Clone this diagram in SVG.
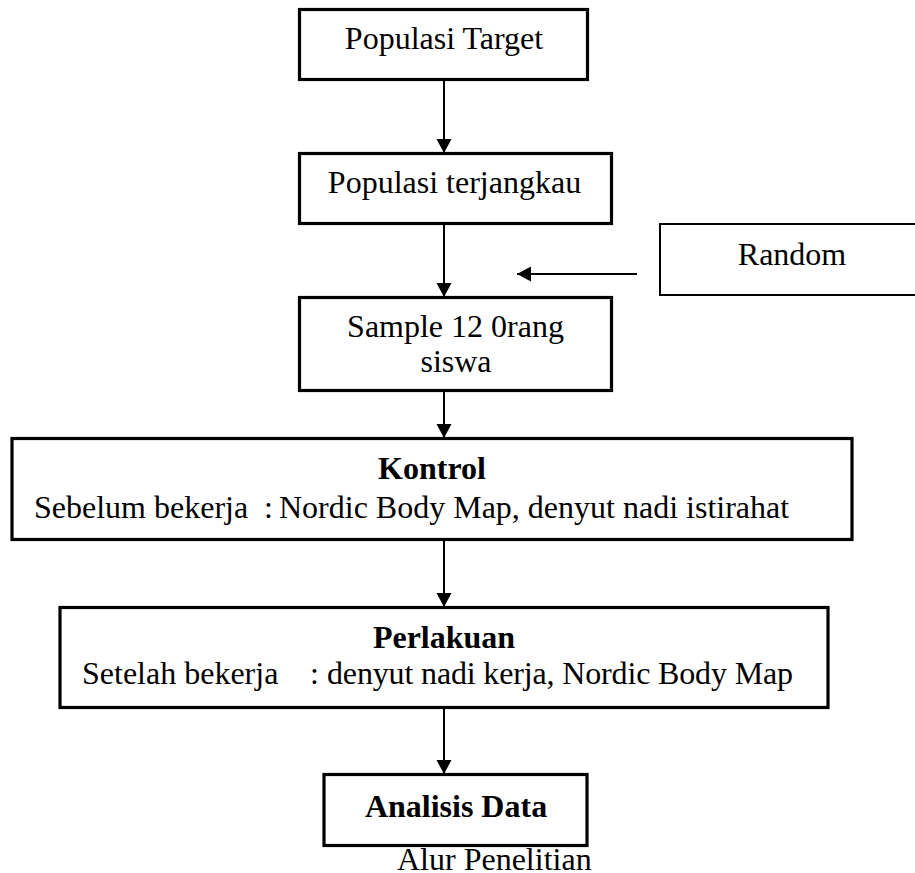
<svg xmlns="http://www.w3.org/2000/svg" width="915" height="873" viewBox="0 0 915 873">
<style>
  .box{fill:#fff;stroke:#000;stroke-width:3.2}
  .thin{fill:#fff;stroke:#000;stroke-width:2}
  .t{font-family:"Liberation Serif","Times New Roman",serif;font-size:32px;fill:#000}
  .b{font-weight:bold}
  .c{text-anchor:middle}
  .con{stroke:#000;stroke-width:2;fill:none}
</style>
<defs>
  <marker id="ah" markerUnits="userSpaceOnUse" markerWidth="16" markerHeight="16" refX="14" refY="7.5" orient="auto">
    <path d="M0,0 L14,7.5 L0,15 z" fill="#000"/>
  </marker>
</defs>
<rect width="915" height="873" fill="#fff"/>
<g id="connectors">
  <line class="con" x1="444" y1="80" x2="444" y2="153" marker-end="url(#ah)"/>
  <line class="con" x1="444" y1="224" x2="444" y2="297" marker-end="url(#ah)"/>
  <line class="con" x1="637" y1="274" x2="517" y2="274" marker-end="url(#ah)"/>
  <line class="con" x1="444" y1="391" x2="444" y2="438" marker-end="url(#ah)"/>
  <line class="con" x1="444" y1="536" x2="444" y2="607" marker-end="url(#ah)"/>
  <line class="con" x1="444" y1="704" x2="444" y2="774" marker-end="url(#ah)"/>
</g>
<g id="populasi-target">
  <rect class="box" x="299.5" y="9.5" width="288" height="70"/>
  <text class="t c" x="444" y="49">Populasi Target</text>
</g>
<g id="populasi-terjangkau">
  <rect class="box" x="299.5" y="153.5" width="312" height="70"/>
  <text class="t c" x="454.5" y="193">Populasi terjangkau</text>
</g>
<g id="random">
  <rect class="thin" x="660" y="224" width="270" height="71"/>
  <text class="t c" x="792" y="265">Random</text>
</g>
<g id="sample">
  <rect class="box" x="299.5" y="297.5" width="312" height="93"/>
  <text class="t c" x="455.5" y="337">Sample 12 0rang</text>
  <text class="t c" x="456" y="372">siswa</text>
</g>
<g id="kontrol">
  <rect class="box" x="12" y="438.5" width="840" height="101"/>
  <text class="t b c" x="432" y="479">Kontrol</text>
  <text class="t" y="518"><tspan x="34">Sebelum bekerja</tspan><tspan x="264">:</tspan><tspan x="279">Nordic Body Map, denyut nadi istirahat</tspan></text>
</g>
<g id="perlakuan">
  <rect class="box" x="60" y="607.5" width="768" height="100"/>
  <text class="t b c" x="444" y="648">Perlakuan</text>
  <text class="t" y="684"><tspan x="82">Setelah bekerja</tspan><tspan x="310">:</tspan><tspan x="327" textLength="466" lengthAdjust="spacing">denyut nadi kerja, Nordic Body Map</tspan></text>
</g>
<g id="analisis-data">
  <rect class="box" x="324" y="774.5" width="263" height="71"/>
  <text class="t b c" x="456" y="817">Analisis Data</text>
</g>
<g id="caption">
  <text class="t" x="397" y="870">Alur Penelitian</text>
</g>
</svg>
